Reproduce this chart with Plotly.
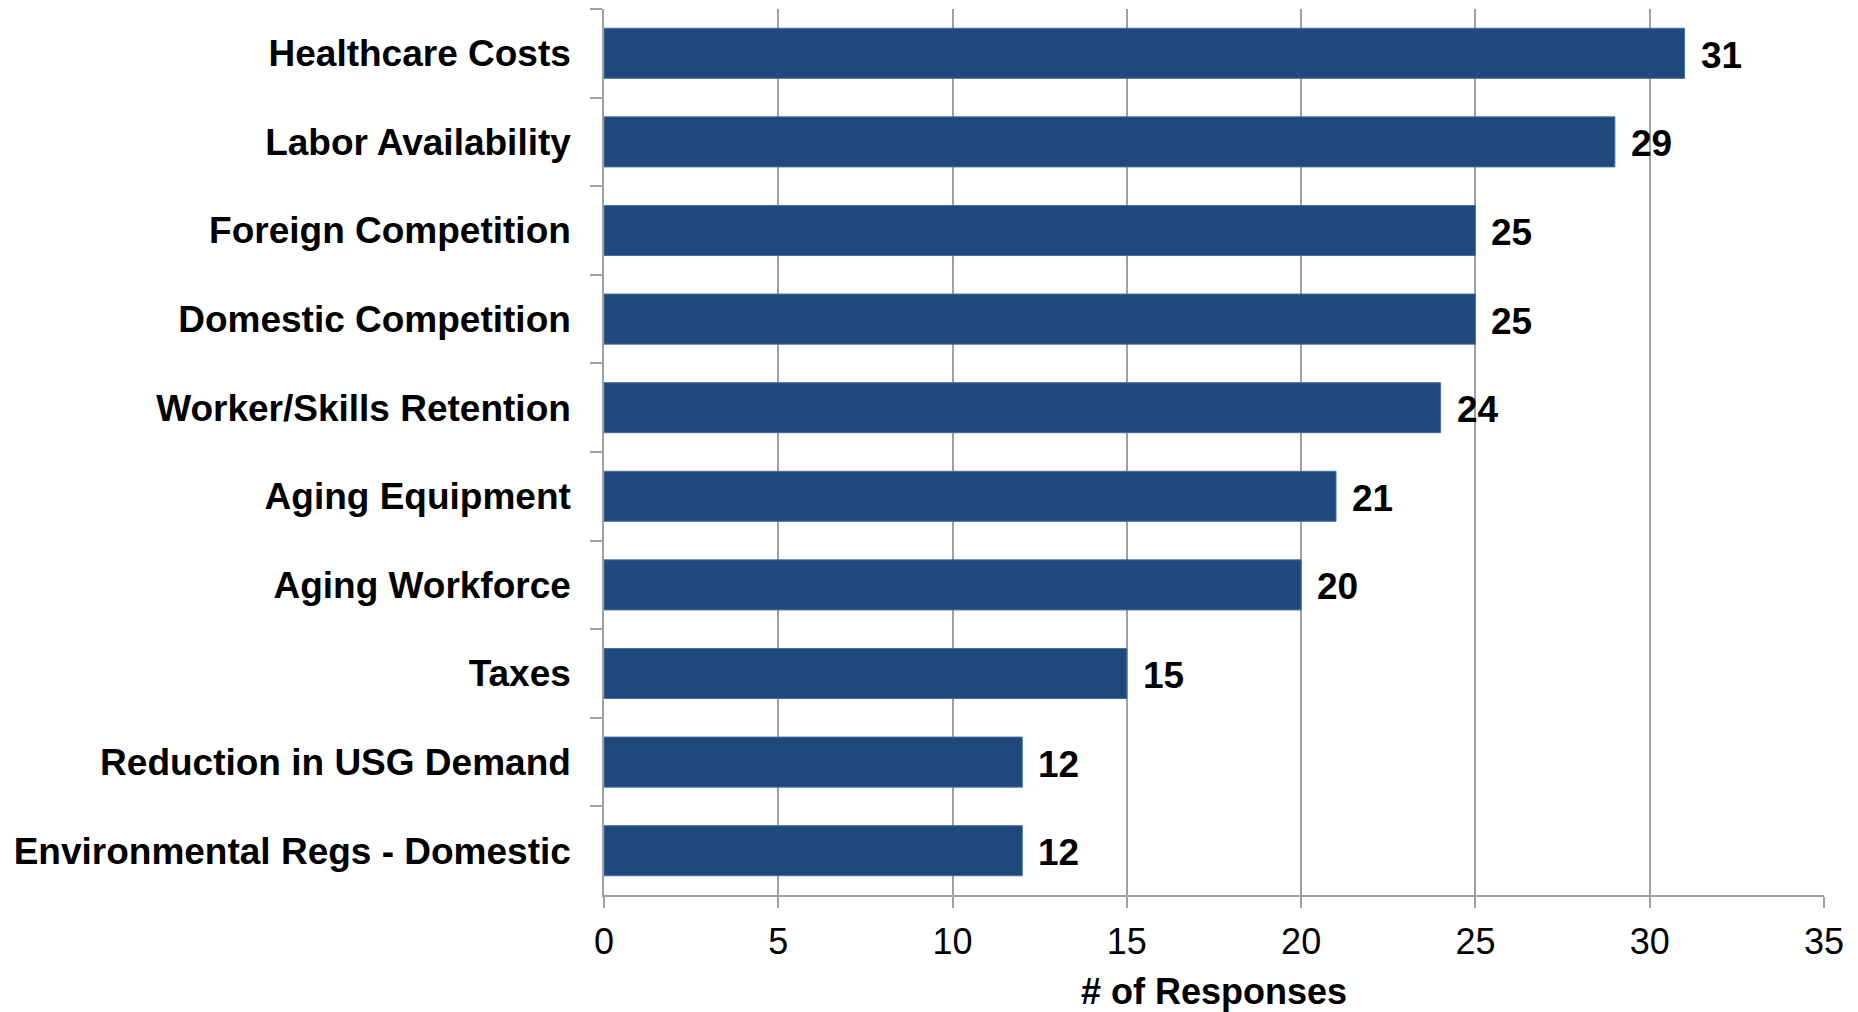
import plotly.graph_objects as go

categories = [
    "Healthcare Costs",
    "Labor Availability",
    "Foreign Competition",
    "Domestic Competition",
    "Worker/Skills Retention",
    "Aging Equipment",
    "Aging Workforce",
    "Taxes",
    "Reduction in USG Demand",
    "Environmental Regs - Domestic",
]
responses = [31, 29, 25, 25, 24, 21, 20, 15, 12, 12]
x_ticks = [0, 5, 10, 15, 20, 25, 30, 35]

font_family = "Liberation Sans, Arial, sans-serif"
grid_col = "#a0a0a0"

fig = go.Figure()
fig.add_trace(go.Bar(
    x=responses, y=categories, orientation="h",
    marker=dict(color="#1F497D", line=dict(color="#4a6f9c", width=1)),
    width=0.565, hoverinfo="x+y",
))

# value labels to the right of each bar
for cat, val in zip(categories, responses):
    fig.add_annotation(x=val, y=cat, text=str(val), showarrow=False,
                       xanchor="left", xshift=14, yshift=-2,
                       font=dict(family=font_family, size=37, color="black", weight="bold"))

# page body has an 8px margin, so the figure is sized to fit the window
fig.update_layout(
    width=1850, height=1004,
    margin=dict(l=596, r=34, t=1, b=111),
    plot_bgcolor="white", paper_bgcolor="white",
    showlegend=False,
    font=dict(family=font_family, color="black"),
)
fig.update_xaxes(
    range=[0, 35], tickvals=x_ticks, ticktext=[str(t) for t in x_ticks],
    showgrid=True, gridcolor=grid_col, gridwidth=1.5,
    showline=True, linecolor=grid_col, linewidth=1.5,
    ticks="outside", ticklen=11, tickcolor=grid_col, tickwidth=1.5,
    ticklabelstandoff=3,
    tickfont=dict(size=36, family=font_family), zeroline=False,
    title=dict(text="# of Responses", standoff=24,
               font=dict(size=36, family=font_family, weight="bold")),
)
fig.update_yaxes(
    autorange="reversed", showgrid=False,
    showline=True, linecolor=grid_col, linewidth=1.5,
    ticks="outside", ticklen=12, tickcolor=grid_col, tickwidth=1.5,
    tickson="boundaries", ticklabelstandoff=24,
    tickfont=dict(size=37, family=font_family, weight="bold"),
)

fig.write_html("out.html")
